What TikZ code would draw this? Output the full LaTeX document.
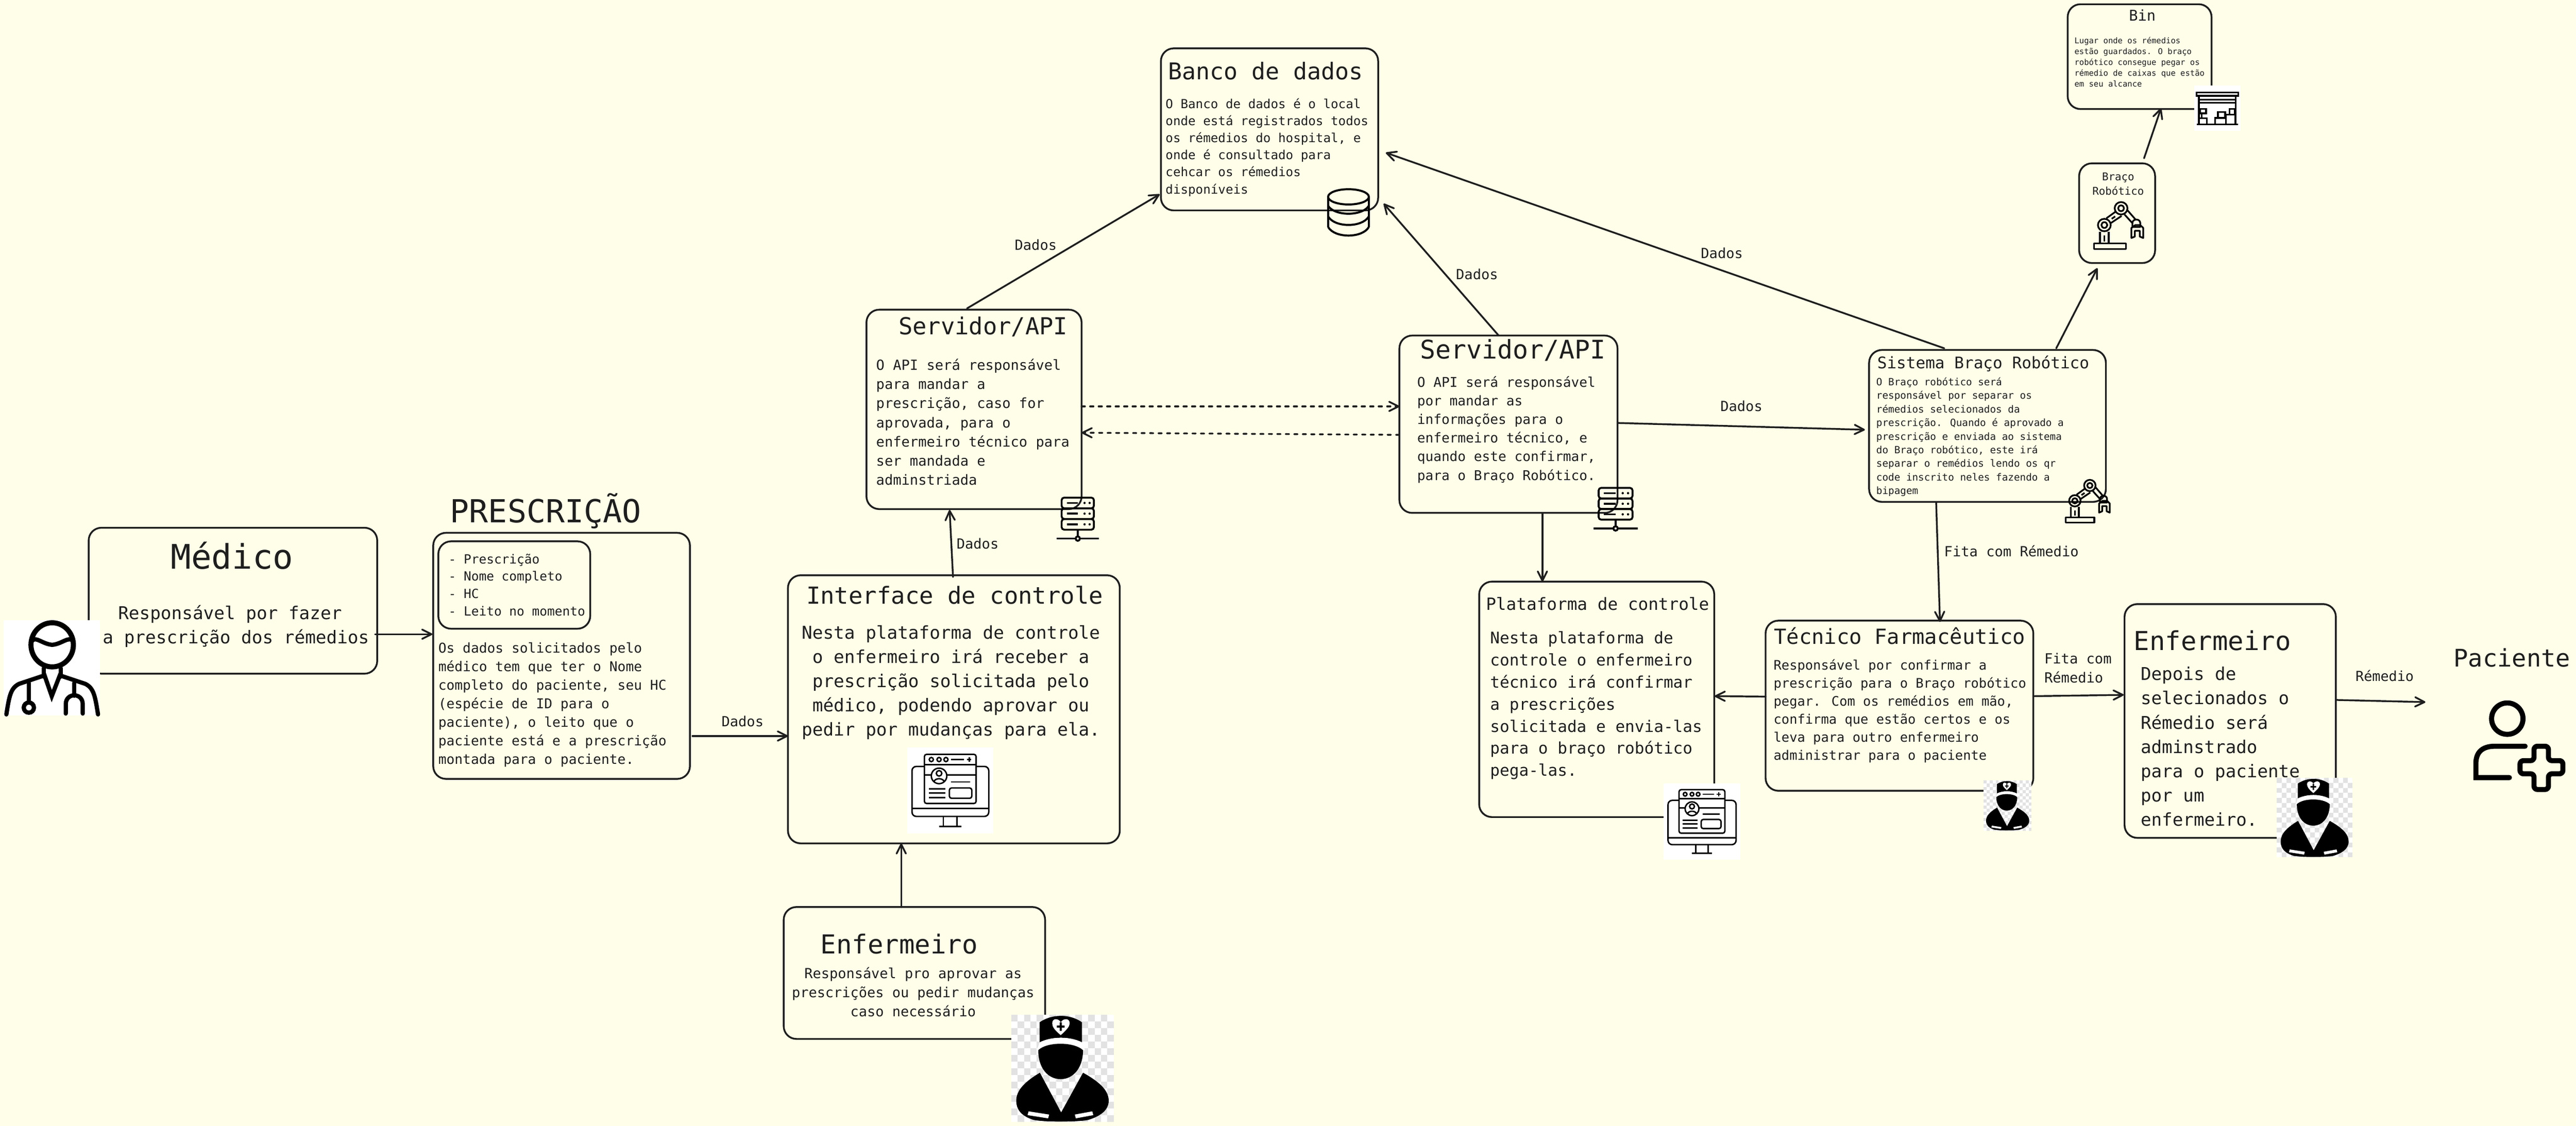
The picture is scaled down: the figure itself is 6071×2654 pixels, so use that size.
\documentclass[tikz,border=0pt]{standalone}
\usepackage{fontspec}
\setmainfont{DejaVu Sans Mono}
\usetikzlibrary{arrows.meta,calc}
\definecolor{paper}{RGB}{255,254,232}
\definecolor{ink}{RGB}{30,30,30}
\definecolor{checker}{RGB}{226,226,226}
\tikzset{
  cardbox/.style={draw=ink,line width=2.1pt,rounded corners=15pt,inner sep=0pt,outer sep=0pt},
  txt/.style={inner sep=0pt,outer sep=0pt,text=ink},
  conn/.style={draw=ink,line width=2.1pt,line cap=round,-{Straight Barb[length=11pt,width=11pt,round]}},
  dashconn/.style={conn,dash pattern=on 4pt off 6pt},
}
\newcommand{\cardb}[5]{\node (#1) [cardbox,minimum width={(#4-#2)*0.5pt},minimum height={(#5-#3)*0.5pt}] at ({(#2+#4)/2},{(#3+#5)/2}) {};}
\newcommand{\ltxt}[6]{\pgfmathsetmacro\fsz{#4/0.602*0.5}\pgfmathsetmacro\lsz{#5*0.5}%
  \node (#1) [txt,align=left,anchor=north west,font=\fontsize{\fsz}{\lsz}\selectfont] at (#2,{#3+0.28*#4/0.602-0.7*#5}) {\strut #6};}
\newcommand{\ctxt}[6]{\pgfmathsetmacro\fsz{#4/0.602*0.5}\pgfmathsetmacro\lsz{#5*0.5}%
  \node (#1) [txt,align=center,anchor=north,font=\fontsize{\fsz}{\lsz}\selectfont] at (#2,{#3+0.28*#4/0.602-0.7*#5}) {\strut #6};}
% nurse icon
\newcommand{\nurseicon}[4]{\begin{scope}[shift={(#1,#2)},xscale={(#3-#1)/100},yscale={(#4-#2)/100}]
  \fill[white] (0,0) rectangle (100,100);
  \foreach \i in {0,...,15}{\foreach \j in {0,...,15}{\ifodd\numexpr\i+\j\relax\else\fill[checker] ({\i*6.25},{\j*6.25}) rectangle ++(6.25,6.25);\fi}}
  \fill[black] (27.7,25.7) -- (27.7,7) .. controls (40,-1) and (57,-1) .. (69,7) -- (69,25.7) .. controls (57,20) and (40,20) .. cycle;
  \fill[white] (27.7,25.7) .. controls (40,20) and (57,20) .. (69,25.7) -- (72,33) -- (25,33) -- cycle;
  \fill[white] (48.3,19) .. controls (42,14) and (40,11) .. (40,8) .. controls (40,3) and (46,3) .. (48.3,7) .. controls (51,3) and (57,3) .. (57,8) .. controls (57,11) and (54,14) .. cycle;
  \fill[black] (47.3,7) rectangle (49.3,15) (44.5,10) rectangle (52,12);
  \fill[black] (26.4,33) .. controls (35,25) and (61,25) .. (70,33) .. controls (70,50) and (60,60) .. (48.3,60) .. controls (36,60) and (26.4,50) .. cycle;
  \fill[black] (28,54) -- (48.7,91) -- (70,54) .. controls (85,62) and (95,70) .. (95,80) .. controls (95,90) and (85,95) .. (75,98) .. controls (65,100) and (32,100) .. (22,98) .. controls (12,95) and (5,90) .. (5,80) .. controls (5,70) and (14,62) .. cycle;
  \fill[white] (17,90) -- (37,93) -- (36,96.5) -- (16,93.5) -- cycle (79,90) -- (62,93) -- (63,96.5) -- (80,93.5) -- cycle;
\end{scope}}
% monitor icon
\newcommand{\monitoricon}[5]{\begin{scope}[shift={(#1,#2)},xscale={(#3-#1)/100},yscale={(#4-#2)/100},line width=#5,draw=black]
  \fill[white] (0,0) rectangle (100,100);
  \draw[rounded corners=5pt] (5.6,22) rectangle (94.7,80);
  \draw (5.6,71) -- (94.7,71);
  \draw (42,80) -- (42,91.5) (58,80) -- (58,91.5) (37,91.5) -- (63,91.5);
  \draw[fill=white,rounded corners=2.5pt] (20,8) rectangle (80,65);
  \draw (20,20) -- (80,20) (20,32) -- (80,32);
  \draw (28,14) circle (2.4) (37,14) circle (2.4) (45,14) circle (2.4);
  \draw (51,14) -- (66,14) (69.5,14) -- (74.5,14) (72,11.5) -- (72,16.5);
  \draw[fill=white] (37,33) circle (9);
  \draw (37,30) circle (3.2);
  \draw (31,40) .. controls (32,35) and (42,35) .. (43,40);
  \draw (51,40) -- (73,40) (25,48) -- (44.5,48) (25,53) -- (44.5,53) (25,58) -- (44.5,58);
  \draw[rounded corners=2.5pt] (49,47) rectangle (75,59);
\end{scope}}
% server icon
\newcommand{\servericon}[4]{\begin{scope}[shift={(#1,#2)},xscale={(#3-#1)/100},yscale={(#4-#2)/100},line width=2.2pt,draw=black]
  \foreach \v in {0,24,48}{
    \draw[rounded corners=3pt] (12,\v) rectangle (88,\v+24);
    \draw (24,\v+12) -- (50,\v+12);
    \fill[black] (66,\v+12) circle (2.6) (78,\v+12) circle (2.6);
  }
  \draw (50,72) -- (50,88) (0,92) -- (44,92) (56,92) -- (100,92);
  \draw (50,92) circle (5);
\end{scope}}
% robot arm icon
\newcommand{\roboticon}[4]{\begin{scope}[shift={(#1,#2)},xscale={(#3-#1)/100},yscale={(#4-#2)/100},line width=2pt,draw=black,line join=round]
  \draw (0,88) rectangle (65,100);
  \draw (12,64) -- (12,88) (30,64) -- (30,88) (21,72) -- (21,84);
  \draw (21,50) circle (13) (21,50) circle (6);
  \draw (55,15) circle (13) (55,15) circle (6);
  \draw (25,36) -- (44,22) (34,46) -- (56,31) (36,37) -- (43,32);
  \draw (67,18) -- (84,38) (62,28) -- (78,46);
  \draw (78,46) .. controls (78,36) and (94,36) .. (94,46) -- (94,54) -- (78,54) -- cycle;
  \draw (76,56) -- (84,50) -- (94,50) -- (100,56) -- (100,77) -- (93,74) -- (93,62) -- (83,62) -- (83,74) -- (76,77) -- cycle;
\end{scope}}
\begin{document}
\begin{tikzpicture}[x=0.5pt,y=-0.5pt]
\fill[paper] (0,0) rectangle (6071,2654);
\useasboundingbox (0,0) rectangle (6071,2654);
% cards
\cardb{medico}{209}{1244}{889}{1588}
\cardb{presc}{1021}{1256}{1626}{1836}
\cardb{inner}{1033}{1276}{1391}{1482}
\cardb{iface}{1857}{1356}{2639}{1988}
\cardb{enf}{1847}{2138}{2463}{2449}
\cardb{banco}{2736}{114}{3248}{496}
\cardb{srvA}{2042}{730}{2549}{1200}
\cardb{srvB}{3298}{791}{3812}{1209}
\cardb{bin}{4873}{10}{5212}{257}
\cardb{braco}{4900}{385}{5079}{620}
\cardb{sist}{4405}{825}{4963}{1183}
\cardb{plat}{3486}{1371}{4040}{1926}
\cardb{tec}{4161}{1463}{4792}{1864}
\cardb{enfB}{5007}{1424}{5505}{1975}
\coordinate (pacin) at (5716,1655);
% connectors
\draw[conn] ($(medico.north west)+(675,251)$) -- ($(presc.north west)+(-2,239)$);
\draw[conn] ($(presc.north east)+(6,479)$) -- ($(iface.north west)+(0,379)$);
\draw[conn] ($(enf.north west)+(277,0)$) -- ($(iface.south west)+(267,0)$);
\draw[conn] ($(iface.north west)+(389,4)$) -- ($(srvA.south west)+(196,2)$);
\draw[conn] ($(srvA.north west)+(237,-3)$) -- ($(banco.south west)+(-3,-38)$);
\draw[conn] ($(srvB.north west)+(234,0)$) -- ($(banco.south east)+(13,-16)$);
\draw[conn] ($(sist.north west)+(177,-4)$) -- ($(banco.north east)+(18,246)$);
\draw[dashconn] ($(srvA.north east)+(0,228)$) -- ($(srvB.north west)+(0,167)$);
\draw[dashconn] ($(srvB.north west)+(0,234)$) -- ($(srvA.north east)+(0,290)$);
\draw[conn] ($(srvB.north east)+(0,206)$) -- ($(sist.north west)+(-10,188)$);
\draw[conn] ($(srvB.south west)+(337,0)$) -- ($(plat.north west)+(149,0)$);
\draw[conn] ($(sist.north west)+(441,-4)$) -- ($(braco.south west)+(43,12)$);
\draw[conn] ($(braco.north west)+(153,-12)$) -- ($(bin.south west)+(220,-2)$);
\draw[conn] ($(sist.south west)+(158,1)$) -- ($(tec.north west)+(411,3)$);
\draw[conn] ($(tec.north west)+(0,179)$) -- ($(plat.north east)+(1,270)$);
\draw[conn] ($(tec.north east)+(0,178)$) -- ($(enfB.north west)+(-2,214)$);
\draw[conn] ($(enfB.north east)+(2,226)$) -- (pacin);
% texts
\ctxt{tMedico}{547}{1319}{48}{96}{Médico}
\ctxt{dMedico}{556}{1448}{25.1}{57}{Responsável por fazer\hspace*{14pt}\\a prescrição dos rémedios}
\ctxt{tPresc}{1286}{1205}{45}{90}{PRESCRIÇÃO}
\ltxt{dInner}{1057}{1320}{17.9}{41}{- Prescrição\\- Nome completo\\- HC\\- Leito no momento}
\ltxt{dPresc}{1033}{1530}{19.2}{43.7}{Os dados solicitados pelo\\médico tem que ter o Nome\\completo do paciente, seu HC\\(espécie de ID para o\\paciente), o leito que o\\paciente está e a prescrição\\montada para o paciente.}
\ctxt{tIface}{2250}{1408}{33.3}{66}{Interface de controle}
\ctxt{dIface}{2241}{1494}{25.1}{57.2}{Nesta plataforma de controle\\o enfermeiro irá receber a\\prescrição solicitada pelo\\médico, podendo aprovar ou\\pedir por mudanças para ela.}
\ctxt{tEnf}{2119}{2231}{37}{74}{Enfermeiro}
\ctxt{dEnf}{2152}{2297}{19.7}{45}{Responsável pro aprovar as\\prescrições ou pedir mudanças\\caso necessário}
\ctxt{tBanco}{2983}{172}{32.8}{66}{Banco de dados}
\ltxt{dBanco}{2747}{247}{17.7}{40.3}{O Banco de dados é o local\\onde está registrados todos\\os rémedios do hospital, e\\onde é consultado para\\cehcar os rémedios\\disponíveis}
\ctxt{tSrvA}{2317}{773}{33.2}{66}{Servidor/API}
\ltxt{dSrvA}{2065}{863}{19.8}{45.2}{O API será responsável\\para mandar a\\prescrição, caso for\\aprovada, para o\\enfermeiro técnico para\\ser mandada e\\adminstriada}
\ctxt{tSrvB}{3565}{829}{36.4}{72}{Servidor/API}
\ltxt{dSrvB}{3340}{903}{19.1}{44}{O API será responsável\\por mandar as\\informações para o\\enfermeiro técnico, e\\quando este confirmar,\\para o Braço Robótico.}
\ctxt{tBin}{5049}{39}{21}{42}{Bin}
\ltxt{dBin}{4889}{97}{11.35}{25.7}{Lugar onde os rémedios\\estão guardados. O braço\\robótico consegue pegar os\\rémedio de caixas que estão\\em seu alcance}
\ctxt{tBraco}{4992}{419}{15.2}{34}{Braço\\Robótico}
\ctxt{tSist}{4674}{858}{22.7}{45}{Sistema Braço Robótico}
\ltxt{dSist}{4422}{902}{14.1}{32.1}{O Braço robótico será\\responsável por separar os\\rémedios selecionados da\\prescrição. Quando é aprovado a\\prescrição e enviada ao sistema\\do Braço robótico, este irá\\separar o remédios lendo os qr\\code inscrito neles fazendo a\\bipagem}
\ctxt{tPlat}{3765}{1427}{23.9}{48}{Plataforma de controle}
\ltxt{dPlat}{3512}{1507}{22.7}{52}{Nesta plataforma de\\controle o enfermeiro\\técnico irá confirmar\\a prescrições\\solicitada e envia-las\\para o braço robótico\\pega-las.}
\ctxt{tTec}{4477}{1504}{29.6}{59}{Técnico Farmacêutico}
\ltxt{dTec}{4180}{1570}{18.6}{42.6}{Responsável por confirmar a\\prescrição para o Braço robótico\\pegar. Com os remédios em mão,\\confirma que estão certos e os\\leva para outro enfermeiro\\administrar para o paciente}
\ltxt{tEnfB}{5029}{1516}{37}{74}{Enfermeiro}
\ltxt{dEnfB}{5045}{1592}{25}{57.3}{Depois de\\selecionados o\\Rémedio será\\adminstrado\\para o paciente\\por um\\enfermeiro.}
\ctxt{tPac}{5920}{1556}{34.4}{69}{Paciente}
\ctxt{lDadosA}{2441}{580}{19.8}{40}{Dados}
\ctxt{lDadosB}{3481}{649}{19.8}{40}{Dados}
\ctxt{lDadosC}{4058}{600}{19.8}{40}{Dados}
\ctxt{lDadosD}{4104}{960}{19.8}{40}{Dados}
\ctxt{lDadosE}{2304}{1285}{19.8}{40}{Dados}
\ctxt{lDadosF}{1750}{1704}{19.8}{40}{Dados}
\ltxt{lFitaA}{4582}{1303}{19.8}{40}{Fita com Rémedio}
\ltxt{lFitaB}{4818}{1555}{19.8}{45}{Fita com\\Rémedio}
\ctxt{lRem}{5620}{1597}{19.6}{40}{Rémedio}
% doctor icon
\fill[white] (9,1462) rectangle (235,1687);
\begin{scope}[line width=6pt,draw=black,line cap=round]
  \draw (123,1520) ellipse (50 and 52);
  \draw[line width=5pt] (76,1510) .. controls (85,1500) and (100,1518) .. (123,1520) .. controls (146,1518) and (160,1500) .. (172,1510);
  \draw[line width=5pt] (103,1575) -- (103,1595) (143,1575) -- (143,1595);
  \draw[line width=5pt] (15,1684) .. controls (22,1640) and (25,1622) .. (45,1612) -- (105,1592) -- (122,1641) -- (141,1592) -- (201,1612) .. controls (221,1622) and (224,1640) .. (231,1684);
  \draw[line width=5pt] (68,1610) -- (68,1655) (175,1610) -- (175,1640);
  \draw[line width=5pt] (68,1668) circle (12);
  \draw[line width=5pt] (155,1682) -- (155,1660) .. controls (155,1632) and (195,1632) .. (195,1660) -- (195,1682);
\end{scope}
% other icons
\monitoricon{2138}{1762}{2341}{1965}{1.7pt}
\monitoricon{3921}{1847}{4101}{2027}{1.7pt}
\nurseicon{2383}{2392}{2625}{2645}
\nurseicon{4675}{1840}{4788}{1958}
\nurseicon{5366}{1834}{5544}{2021}
\servericon{2490}{1173}{2590}{1278}
\servericon{3755}{1150}{3860}{1254}
\roboticon{4935}{474}{5051}{587}
\roboticon{4868}{1129}{4972}{1232}
% database icon
\begin{scope}[line width=2.4pt,draw=black]
  \draw (3178,464) ellipse (48 and 18);
  \draw (3130,464) -- (3130,535) (3226,464) -- (3226,535);
  \draw (3130,485) .. controls (3145,510) and (3211,510) .. (3226,485);
  \draw (3130,510) .. controls (3145,537) and (3211,537) .. (3226,510);
  \draw (3130,535) .. controls (3145,562) and (3211,562) .. (3226,535);
\end{scope}
% warehouse icon
\fill[white] (5171,201) rectangle (5280,308);
\begin{scope}[line width=2pt,draw=black]
  \draw (5177,218) rectangle (5275,226);
  \draw (5182,226) -- (5182,293) (5269,226) -- (5269,293) (5177,293) -- (5275,293);
  \draw (5182,235) -- (5269,235) (5182,242) -- (5269,242);
  \draw (5183,279) rectangle (5201,293) (5185,257) rectangle (5199,267) (5189,267) -- (5189,279);
  \draw (5220,278) rectangle (5246,293) (5227,264) rectangle (5244,278);
  \draw (5246,270) rectangle (5268,293) (5254,257) rectangle (5267,270);
\end{scope}
% patient icon
\begin{scope}[line width=6pt,draw=black,line cap=round]
  \draw (5909,1694) ellipse (37 and 37);
  \draw (5951,1759) -- (5880,1759) .. controls (5848,1759) and (5835,1775) .. (5835,1800) -- (5835,1833) -- (5914,1833);
  \draw[line join=round,rounded corners=4pt] (5972,1759) -- (6006,1759) -- (6006,1793) -- (6040,1793) -- (6040,1824) -- (6006,1824) -- (6006,1861) -- (5972,1861) -- (5972,1824) -- (5939,1824) -- (5939,1793) -- (5972,1793) -- cycle;
\end{scope}
\end{tikzpicture}
\end{document}
